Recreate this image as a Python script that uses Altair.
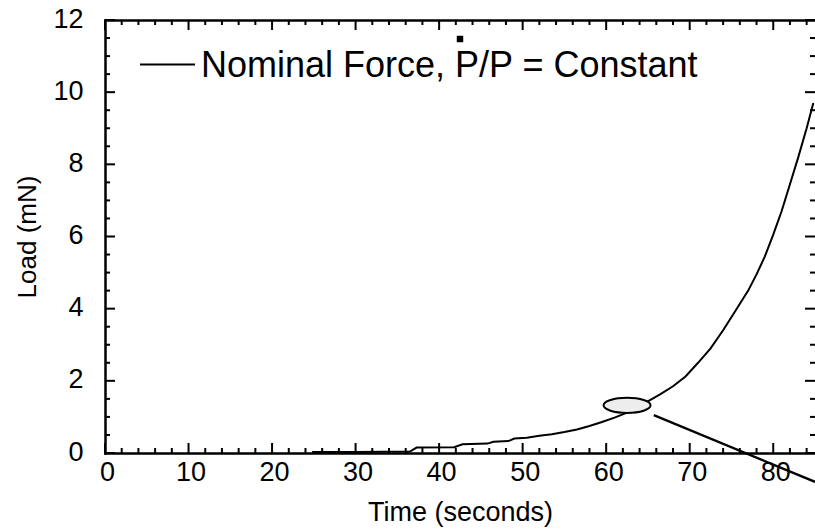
import altair as alt
import pandas as pd

# ---- data ----
TIME = [24.8, 30.0, 36.5, 37.3, 41.8, 42.8, 45.8, 46.5, 48.3, 49.0, 50.5, 52.0,
        53.5, 55.0, 56.5, 58.0, 59.5, 61.0, 62.5, 64.0, 65.3, 66.5, 68.0, 69.5,
        71.0, 72.5, 74.0, 75.5, 77.0, 78.0, 79.0, 80.0, 81.0, 82.0, 83.0, 84.0, 84.8]
LOAD = [0.03, 0.03, 0.04, 0.15, 0.16, 0.24, 0.26, 0.31, 0.33, 0.40, 0.42, 0.48,
        0.52, 0.58, 0.65, 0.75, 0.86, 0.98, 1.12, 1.30, 1.47, 1.63, 1.85, 2.12,
        2.50, 2.90, 3.40, 3.95, 4.50, 4.95, 5.45, 6.05, 6.70, 7.45, 8.20, 9.00, 9.70]

X_MAJOR = [0, 10, 20, 30, 40, 50, 60, 70, 80]
X_MINOR = [2, 4, 6, 8, 12, 14, 16, 18, 22, 24, 26, 28, 32, 34, 36, 38, 42, 44, 46, 48,
           52, 54, 56, 58, 62, 64, 66, 68, 72, 74, 76, 78, 82, 84]
Y_MAJOR = [0, 2, 4, 6, 8, 10, 12]
Y_MINOR = [0.5, 1, 1.5, 2.5, 3, 3.5, 4.5, 5, 5.5, 6.5, 7, 7.5, 8.5, 9, 9.5,
           10.5, 11, 11.5]

X_TITLE = "Time (seconds)"
Y_TITLE = "Load (mN)"
LEGEND_LABEL = ["Nominal Force, P/P = Constant"]

# annotation (ellipse marking a region and its pointer line), in data units
ELLIPSE_T = [62.5]
ELLIPSE_LOAD = [1.32]
POINTER_T = [65.7, 85.0]
POINTER_LOAD = [1.05, -0.80]

FONT = "Liberation Sans"
W, H = 710, 433
MAJ, MIN = 10, 5  # inward tick lengths (px)

curve = pd.DataFrame({"t": TIME, "load": LOAD})
ell = pd.DataFrame({"t": ELLIPSE_T, "load": ELLIPSE_LOAD})
ptr = pd.DataFrame({"t": POINTER_T, "load": POINTER_LOAD})
leg = pd.DataFrame({"label": LEGEND_LABEL})
xmaj = pd.DataFrame({"v": X_MAJOR})
xmin = pd.DataFrame({"v": X_MINOR})
ymaj = pd.DataFrame({"v": Y_MAJOR})
ymin = pd.DataFrame({"v": Y_MINOR})

xs = alt.Scale(domain=[0, 85], nice=False, zero=False)
ys = alt.Scale(domain=[0, 12], nice=False, zero=False)

x_main = alt.Axis(orient="bottom", values=X_MAJOR, domain=True, domainColor="black",
                  domainWidth=2.5, domainCap="square", ticks=True, tickSize=0,
                  tickOpacity=0, labels=True, labelFont=FONT, labelFontSize=27,
                  labelColor="black", labelPadding=6, labelOffset=2, labelFlush=False,
                  labelOverlap=False, grid=False, title=X_TITLE, titleFont=FONT,
                  titleFontSize=27, titleFontWeight="normal", titleColor="black",
                  titleX=355, titleY=67, titleBaseline="alphabetic", titleAlign="center")
y_main = alt.Axis(orient="left", values=Y_MAJOR, domain=True, domainColor="black",
                  domainWidth=2.5, domainCap="square", ticks=True, tickSize=0,
                  tickOpacity=0, labels=True, labelFont=FONT, labelFontSize=27,
                  labelColor="black", labelPadding=22, labelOffset=-1, labelFlush=False,
                  labelOverlap=False, grid=False, title=Y_TITLE, titleFont=FONT,
                  titleFontSize=26, titleFontWeight="normal", titleColor="black",
                  titleX=-70, titleY=216.5, titleAngle=270, titleBaseline="alphabetic",
                  titleAlign="center")

line = alt.Chart(curve).mark_line(color="black", strokeWidth=2, clip=True).encode(
    x=alt.X("t:Q", scale=xs, axis=x_main),
    y=alt.Y("load:Q", scale=ys, axis=y_main),
)

top_domain = alt.Chart(curve).mark_point(opacity=0, size=1).encode(
    x=alt.X("t:Q", scale=xs,
            axis=alt.Axis(orient="top", domain=True, domainColor="black",
                          domainWidth=2.5, domainCap="square", ticks=False,
                          labels=False, grid=False, title=None)),
    y=alt.Y("load:Q", scale=ys, axis=None),
)


def xticks(df, y0, y1):
    return alt.Chart(df).mark_rule(color="black", strokeWidth=2).encode(
        x=alt.X("v:Q", scale=xs, axis=None), y=alt.value(y0), y2=alt.value(y1)
    )


def yticks(df, x0, x1):
    return alt.Chart(df).mark_rule(color="black", strokeWidth=2).encode(
        y=alt.Y("v:Q", scale=ys, axis=None), x=alt.value(x0), x2=alt.value(x1)
    )


ticks = [
    xticks(xmaj, H - MAJ, H), xticks(xmin, H - MIN, H),
    xticks(xmaj, 0, MAJ), xticks(xmin, 0, MIN),
    yticks(ymaj, 0, MAJ), yticks(ymin, 0, MIN),
    yticks(ymaj, W - MAJ, W), yticks(ymin, W - MIN, W),
]

ellipse = alt.Chart(ell).mark_point(
    shape="M -1 0 A 1 0.32 0 1 1 1 0 A 1 0.32 0 1 1 -1 0 Z",
    size=2209, filled=True, fill="#ededed", stroke="black", strokeWidth=2,
    opacity=1, fillOpacity=1, strokeOpacity=1,
).encode(
    x=alt.X("t:Q", scale=xs, axis=None),
    y=alt.Y("load:Q", scale=ys, axis=None),
)

pointer = alt.Chart(ptr).mark_line(color="black", strokeWidth=2.3, clip=False).encode(
    x=alt.X("t:Q", scale=xs, axis=None),
    y=alt.Y("load:Q", scale=ys, axis=None),
)

leg_line = alt.Chart(leg).mark_rule(color="black", strokeWidth=2).encode(
    x=alt.value(35), x2=alt.value(90), y=alt.value(44.5)
)
leg_text = alt.Chart(leg).mark_text(
    align="left", baseline="alphabetic", font=FONT, fontSize=36, color="black"
).encode(x=alt.value(96), y=alt.value(57.3), text="label:N")
leg_dot = alt.Chart(leg).mark_square(size=42, color="black", opacity=1).encode(
    x=alt.value(355), y=alt.value(19)
)

chart = alt.layer(
    line, top_domain, *ticks, ellipse, pointer, leg_line, leg_text, leg_dot,
).resolve_axis(
    x="independent", y="independent"
).properties(
    width=W, height=H,
    autosize=alt.AutoSizeParams(type="none"),
    padding={"left": 105, "top": 20, "right": 0, "bottom": 76},
    background="white",
).configure_view(stroke=None)

chart.save("out.html", embed_options={"renderer": "svg", "actions": False})
